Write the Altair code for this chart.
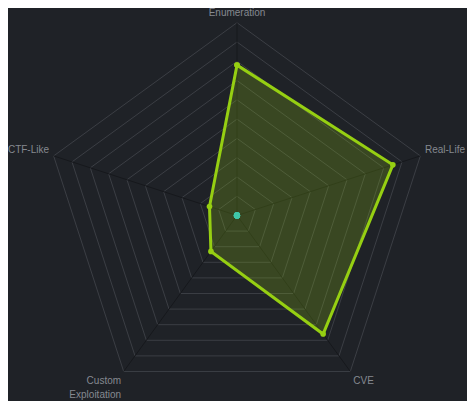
import math
import altair as alt
import pandas as pd

# ---- data ----
categories = ["Enumeration", "Real-Life", "CVE", "Custom Exploitation", "CTF-Like"]
label_text = ["Enumeration", "Real-Life", "CVE", "Custom\nExploitation", "CTF-Like"]
values = [78, 85, 76, 23, 15]
baseline_values = [0, 0, 0, 0, 0]
levels = [10, 20, 30, 40, 50, 60, 70, 80, 90, 100]
max_value = 100

# ---- styles ----
BG = "#1f2227"
GRID = "#3b3e44"
SPOKE = "#16181c"
LINE = "#96cf12"
TEAL = "#3fc6a8"
TEXT = "#858990"
FONT = "Liberation Sans"
# (align, dx, dy) per label, baseline alphabetic
label_style = [("center", 0, -7), ("left", 4.6, -3.2), ("left", 3, 12.5),
               ("right", -2.6, 12.5), ("right", -4.6, -3.2)]

n = len(categories)
ANG = "datum.idx * 2 * PI / %d" % n

W, H = 459, 393
PX = 1.928  # pixels per unit
cx, cy = 229, 207.5
xdom = [-cx / PX, (W - cx) / PX]
ydom = [-(H - cy) / PX, cy / PX]

xs = alt.Scale(domain=xdom, nice=False, zero=False)
ys = alt.Scale(domain=ydom, nice=False, zero=False)
noax = None


def XY(xf="x", yf="y"):
    return dict(x=alt.X(f"{xf}:Q", scale=xs, axis=noax),
                y=alt.Y(f"{yf}:Q", scale=ys, axis=noax))


# rings
ring_rows = []
for lv in levels:
    for i in range(n + 1):
        ring_rows.append({"level": lv, "idx": i % n, "ord": i})
rings = alt.Chart(pd.DataFrame(ring_rows)).transform_calculate(
    x=f"datum.level * sin({ANG})", y=f"datum.level * cos({ANG})"
).mark_line(stroke=GRID, strokeWidth=1).encode(
    **XY(), detail="level:N", order="ord:Q")

# spokes
spoke_df = pd.DataFrame({"cat": categories, "idx": list(range(n))})
spokes = alt.Chart(spoke_df).transform_calculate(
    x0="0", y0="0",
    x=f"{max_value} * sin({ANG})", y=f"{max_value} * cos({ANG})"
).mark_rule(stroke=SPOKE, strokeWidth=1).encode(
    x=alt.X("x0:Q", scale=xs, axis=noax), y=alt.Y("y0:Q", scale=ys, axis=noax),
    x2="x:Q", y2="y:Q")

# data polygon
poly_df = pd.DataFrame({
    "cat": categories + [categories[0]],
    "idx": list(range(n)) + [0],
    "ord": list(range(n + 1)),
    "value": values + [values[0]],
})
poly_base = alt.Chart(poly_df).transform_calculate(
    x=f"datum.value * sin({ANG})", y=f"datum.value * cos({ANG})")
fill = poly_base.mark_line(fill=LINE, fillOpacity=0.22, strokeOpacity=0).encode(
    **XY(), order="ord:Q")
outline = poly_base.mark_line(stroke=LINE, strokeWidth=3, strokeJoin="miter").encode(
    **XY(), order="ord:Q")
pts = poly_base.mark_circle(color=LINE, size=32, opacity=1).encode(**XY())

base_df = pd.DataFrame({"cat": categories, "idx": list(range(n)), "value": baseline_values})
base_pts = alt.Chart(base_df).transform_calculate(
    x=f"datum.value * sin({ANG})", y=f"datum.value * cos({ANG})"
).mark_circle(color=TEAL, size=40, opacity=1).encode(**XY())

# labels
label_layers = []
for i in range(n):
    al, dx, dy = label_style[i]
    df = pd.DataFrame({"label": [label_text[i]], "idx": [i]})
    label_layers.append(
        alt.Chart(df).transform_calculate(
            x=f"{max_value} * sin({ANG})", y=f"{max_value} * cos({ANG})"
        ).mark_text(align=al, baseline="alphabetic", dx=dx, dy=dy, fontSize=10,
                    font=FONT, color=TEXT, lineBreak="\n", lineHeight=14.5).encode(
            **XY(), text="label:N")
    )

chart = alt.layer(rings, spokes, fill, outline, pts, base_pts, *label_layers).properties(
    width=W, height=H, background=BG, padding=0,
    autosize=alt.AutoSizeParams(type="none"),
).configure_view(stroke=None)

chart.save("out.html", embed_options={"renderer": "svg", "actions": False})
